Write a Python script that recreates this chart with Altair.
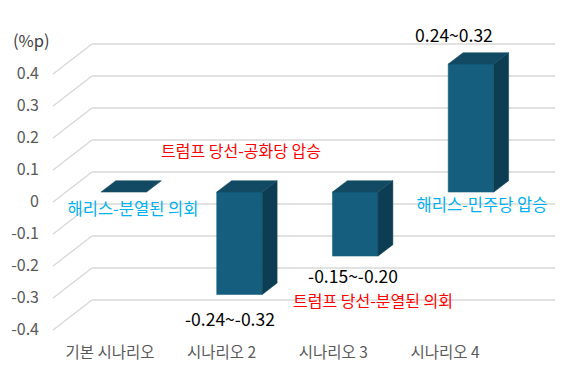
import altair as alt
import pandas as pd

# ---------------- data ----------------
categories = ["기본 시나리오", "시나리오 2", "시나리오 3", "시나리오 4"]
values = [0.0, -0.32, -0.20, 0.40]

y_ticks = [0.4, 0.3, 0.2, 0.1, 0.0, -0.1, -0.2, -0.3, -0.4]
y_tick_labels = ["0.4", "0.3", "0.2", "0.1", "0", "-0.1", "-0.2", "-0.3", "-0.4"]
unit_label = "(%p)"

ann_texts = ["트럼프 당선-공화당 압승", "해리스-분열된 의회", "-0.24~-0.32",
             "-0.15~-0.20", "트럼프 당선-분열된 의회", "0.24~0.32", "해리스-민주당 압승"]
ann_kind = ["red", "blue", "num", "num", "red", "num", "blue"]
ann_x = [1.624, 0.691, 1.529, 2.592, 2.765, 3.464, 3.706]
ann_y = [0.156, -0.025, -0.372, -0.238, -0.312, 0.516, -0.0125]

# ---------------- layout / style ----------------
PX_BAND = 115.75      # pixels per category band (front plane)
PX_UNIT = 320.0       # pixels per 1.0 value unit
W, H = 525, 336
X0 = -8 / PX_BAND
Y0 = -0.5
DX = 39 / PX_BAND     # depth offset (x) of back wall
DV = 30 / PX_UNIT     # depth offset (y) of back wall
D1, D2 = 0.33, 0.71   # bar depth range
HW = 0.197            # half bar width (bands)

FRONT = "#155E7E"
TOP = "#124A63"
SIDE = "#0D3D52"
GRID = "#D9D9D9"
FONT = "Noto Sans CJK KR"
colors = {"red": "#FF0000", "blue": "#00B0F0", "num": "#000000"}
sizes = {"red": 16, "blue": 16.5, "num": 17.5}

xs = alt.Scale(domain=[X0, X0 + W / PX_BAND], nice=False, zero=False)
ys = alt.Scale(domain=[Y0, Y0 + H / PX_UNIT], nice=False, zero=False)

# ---------------- gridlines ----------------
grid_rows = []
for v in y_ticks:
    grid_rows.append({"x": 0, "y": v, "x2": DX, "y2": v + DV})
    grid_rows.append({"x": DX, "y": v + DV, "x2": 4 + DX, "y2": v + DV})
grid_df = pd.DataFrame(grid_rows)
grid = alt.Chart(grid_df).mark_rule(color=GRID, strokeWidth=1.4).encode(
    x=alt.X("x:Q", scale=xs, axis=None), y=alt.Y("y:Q", scale=ys, axis=None),
    x2="x2:Q", y2="y2:Q")

# ---------------- bars ----------------
front_rows, side_rows, top_rows = [], [], []
for k, (cat, v) in enumerate(zip(categories, values)):
    c = k + 0.5
    vt, vb = max(0.0, v), min(0.0, v)
    if v != 0:
        front_rows.append({"bar": cat, "x": c - HW + D1 * DX, "x2": c + HW + D1 * DX,
                           "y": vt + D1 * DV, "y2": vb + D1 * DV})
        for d in (D1, D2):
            side_rows.append({"bar": cat, "x": c + HW + d * DX,
                              "y": vt + d * DV, "y2": vb + d * DV})
    for d in (D1, D2):
        top_rows.append({"bar": cat, "y": vt + d * DV,
                         "x": c - HW + d * DX, "x2": c + HW + d * DX})

front = alt.Chart(pd.DataFrame(front_rows)).mark_rect(color=FRONT, stroke=FRONT, strokeWidth=0.5).encode(
    x=alt.X("x:Q", scale=xs, axis=None), x2="x2:Q",
    y=alt.Y("y:Q", scale=ys, axis=None), y2="y2:Q")

side = alt.Chart(pd.DataFrame(side_rows)).mark_area(orient="vertical", color=SIDE, stroke=SIDE, strokeWidth=0.5).encode(
    x=alt.X("x:Q", scale=xs, axis=None),
    y=alt.Y("y:Q", scale=ys, axis=None, stack=None), y2="y2:Q",
    detail="bar:N")

top = alt.Chart(pd.DataFrame(top_rows)).mark_area(orient="horizontal", color=TOP, stroke=TOP, strokeWidth=0.5).encode(
    y=alt.Y("y:Q", scale=ys, axis=None),
    x=alt.X("x:Q", scale=xs, axis=None, stack=None), x2="x2:Q",
    detail="bar:N")

# ---------------- axis labels ----------------
ylab_df = pd.DataFrame({"y": y_ticks, "label": y_tick_labels, "x": [-14 / PX_BAND] * len(y_ticks)})
ylab = alt.Chart(ylab_df).mark_text(align="right", baseline="middle", font=FONT, fontSize=16,
                                    color="#595959").encode(
    x=alt.X("x:Q", scale=xs, axis=None), y=alt.Y("y:Q", scale=ys, axis=None), text="label:N")

unit_df = pd.DataFrame({"x": [-40 / PX_BAND], "y": [(202 - 42) / PX_UNIT], "label": [unit_label]})
unit = alt.Chart(unit_df).mark_text(align="left", baseline="middle", font=FONT, fontSize=16.5,
                                    color="#404040").encode(
    x=alt.X("x:Q", scale=xs, axis=None), y=alt.Y("y:Q", scale=ys, axis=None), text="label:N")

xlab_df = pd.DataFrame({"label": categories,
                        "x": [0.492 + 0.965 * k for k in range(len(categories))],
                        "y": [(202 - 353) / PX_UNIT] * len(categories)})
xlab = alt.Chart(xlab_df).mark_text(align="center", baseline="middle", font=FONT, fontSize=15.5,
                                    color="#595959").encode(
    x=alt.X("x:Q", scale=xs, axis=None), y=alt.Y("y:Q", scale=ys, axis=None), text="label:N")

# ---------------- annotations ----------------
ann_df = pd.DataFrame({"text": ann_texts, "x": ann_x, "y": ann_y,
                       "color": [colors[k] for k in ann_kind],
                       "size": [sizes[k] for k in ann_kind]})
ann = alt.Chart(ann_df).mark_text(align="center", baseline="middle", font=FONT).encode(
    x=alt.X("x:Q", scale=xs, axis=None), y=alt.Y("y:Q", scale=ys, axis=None),
    text="text:N", color=alt.Color("color:N", scale=None),
    size=alt.Size("size:Q", scale=None, legend=None))

chart = alt.layer(grid, front, side, top, ylab, unit, xlab, ann).properties(
    width=W, height=H,
    autosize=alt.AutoSizeParams(type="none"),
    padding={"left": 37, "top": 18, "right": 2, "bottom": 10},
    background="white",
).configure_view(stroke=None)

chart.save("out.html", embed_options={"renderer": "svg", "actions": False})
